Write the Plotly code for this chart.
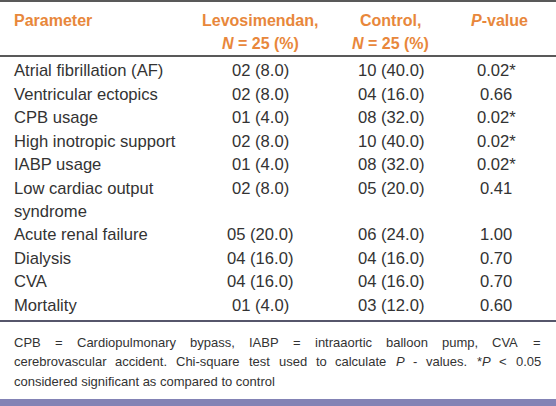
import plotly.graph_objects as go

# ---------------- data ----------------
header_labels = ["Parameter", "Levosimendan,", "Control,", "<i>P</i>-value"]
header_sub = ["", "<i>N</i> = 25 (%)", "<i>N</i> = 25 (%)", ""]

parameters = ["Atrial fibrillation (AF)", "Ventricular ectopics", "CPB usage",
              "High inotropic support", "IABP usage",
              "Low cardiac output|syndrome", "Acute renal failure",
              "Dialysis", "CVA", "Mortality"]
levo_n = [2, 2, 1, 2, 1, 2, 5, 4, 4, 1]
levo_pct = [8.0, 8.0, 4.0, 8.0, 4.0, 8.0, 20.0, 16.0, 16.0, 4.0]
control_n = [10, 4, 8, 10, 8, 5, 6, 4, 4, 3]
control_pct = [40.0, 16.0, 32.0, 40.0, 32.0, 20.0, 24.0, 16.0, 16.0, 12.0]
p_values = ["0.02*", "0.66", "0.02*", "0.02*", "0.02*", "0.41", "1.00", "0.70", "0.70", "0.60"]

foot_line1 = ["CPB", "=", "Cardiopulmonary", "bypass,", "IABP", "=", "intraaortic",
              "balloon", "pump,", "CVA", "="]
foot_line2 = ["cerebrovascular", "accident.", "Chi-square", "test", "used", "to",
              "calculate", "<i>P</i>", "-", "values.", "*<i>P</i>", "&lt;", "0.05"]
foot_line3 = "considered significant as compared to control"

# ---------------- styling ----------------
W, H = 556, 406
FONT = "Liberation Sans, Arial, sans-serif"
ORANGE = "#e8873b"
TEXT = "#333333"
BODY_FS = 16.6
HEAD_FS = 16
FOOT_FS = 13

col_x = [14, 260, 391, 496]
head_x = [14, 260, 390, 499]
head_y = [21, 44]
row_y0, row_step = 71, 23.4
foot_y = [342, 361.5, 381]
foot_left, foot_right = 14, 541

AW = {' ': 278, '!': 278, '(': 333, ')': 333, '*': 389, ',': 278, '-': 333, '.': 278,
      '<': 584, '=': 584, '>': 584, '%': 889}
for c in "0123456789":
    AW[c] = 556
AW.update(dict(A=667, B=667, C=722, D=722, E=667, F=611, G=778, H=722, I=278, J=500,
               K=667, L=556, M=833, N=722, O=778, P=667, Q=778, R=722, S=667, T=611,
               U=722, V=667, W=944, X=667, Y=667, Z=611))
AW.update(dict(a=556, b=556, c=500, d=556, e=556, f=278, g=556, h=556, i=222, j=222,
               k=500, l=222, m=833, n=556, o=556, p=556, q=556, r=333, s=500, t=278,
               u=556, v=500, w=722, x=500, y=500, z=500))


def plain(s):
    return s.replace("<i>", "").replace("</i>", "").replace("&lt;", "<")


def tw(s, fs):
    return sum(AW.get(c, 556) for c in plain(s)) * fs / 1000.0


def px(x):
    return x / W


def py(y):
    return 1 - y / H


ann = []


def add_text(x, y, text, fs, color, anchor="left", bold=False):
    ann.append(dict(x=px(x), y=py(y), xref="paper", yref="paper",
                    text=("<b>%s</b>" % text) if bold else text,
                    showarrow=False, xanchor=anchor, yanchor="middle",
                    borderpad=0, borderwidth=0,
                    font=dict(family=FONT, size=fs, color=color)))


# header
for i, (lab, sub) in enumerate(zip(header_labels, header_sub)):
    anchor = "left" if i == 0 else "center"
    add_text(head_x[i], head_y[0], lab, HEAD_FS, ORANGE, anchor, bold=True)
    if sub:
        add_text(head_x[i], head_y[1], sub, HEAD_FS, ORANGE, anchor, bold=True)

# body
slot = 0
for i, p in enumerate(parameters):
    y = row_y0 + slot * row_step
    lines = p.split("|")
    for k, ln in enumerate(lines):
        add_text(col_x[0], y + k * row_step, ln, BODY_FS, TEXT, "left")
    add_text(col_x[1], y, "%02d (%.1f)" % (levo_n[i], levo_pct[i]), BODY_FS, TEXT, "center")
    add_text(col_x[2], y, "%02d (%.1f)" % (control_n[i], control_pct[i]), BODY_FS, TEXT, "center")
    add_text(col_x[3], y, p_values[i], BODY_FS, TEXT, "center")
    slot += len(lines)

bottom_rule_y = row_y0 + (slot - 1) * row_step + 16

# footnote, justified lines
for words, y in ((foot_line1, foot_y[0]), (foot_line2, foot_y[1])):
    widths = [tw(w, FOOT_FS) for w in words]
    gap = (foot_right - foot_left - sum(widths)) / (len(words) - 1)
    x = foot_left
    for w, wd in zip(words, widths):
        add_text(x, y, w, FOOT_FS, TEXT, "left")
        x += wd + gap
add_text(foot_left, foot_y[2], foot_line3, FOOT_FS, TEXT, "left")

shapes = [
    dict(type="line", xref="paper", yref="paper", x0=0, x1=1, y0=py(1), y1=py(1),
         line=dict(color="#222222", width=1.6)),
    dict(type="line", xref="paper", yref="paper", x0=0, x1=1, y0=py(56), y1=py(56),
         line=dict(color="#222222", width=1.4)),
    dict(type="line", xref="paper", yref="paper", x0=0, x1=1, y0=py(bottom_rule_y), y1=py(bottom_rule_y),
         line=dict(color="#1e1e3a", width=1.6)),
    dict(type="rect", xref="paper", yref="paper", x0=0, x1=1, y0=py(406), y1=py(399),
         line=dict(width=0), fillcolor="#8383b5"),
]

fig = go.Figure()
fig.update_layout(width=W, height=H, margin=dict(l=0, r=0, t=0, b=0),
                  paper_bgcolor="white", plot_bgcolor="white",
                  xaxis=dict(visible=False), yaxis=dict(visible=False),
                  annotations=ann, shapes=shapes, showlegend=False)
fig.write_html("out.html", config={"displayModeBar": False},
               post_script="document.body.style.margin='0';document.body.style.padding='0';"
                           "document.body.style.overflow='hidden';")
